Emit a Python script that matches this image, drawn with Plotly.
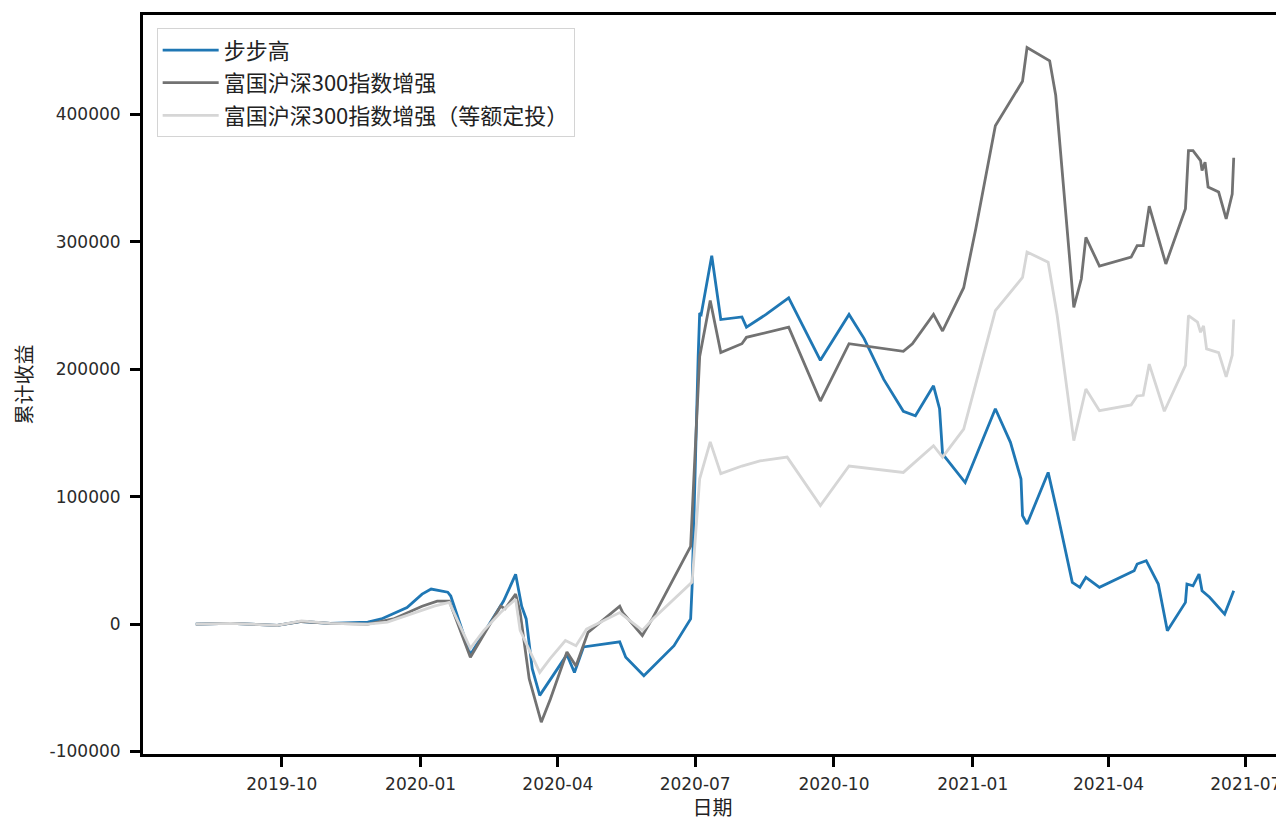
import plotly.graph_objects as go

# ---------------- data ----------------
blue_dates = [
    "2019-08-05", "2019-08-28", "2019-09-28", "2019-10-14", "2019-11-02", "2019-11-27",
    "2019-12-06", "2019-12-23", "2020-01-02", "2020-01-08", "2020-01-19", "2020-01-21",
    "2020-02-03", "2020-02-12", "2020-02-25", "2020-03-04", "2020-03-06", "2020-03-08",
    "2020-03-11", "2020-03-15", "2020-03-20", "2020-03-29", "2020-04-07", "2020-04-12",
    "2020-04-18", "2020-05-12", "2020-05-16", "2020-05-28", "2020-06-17", "2020-06-28",
    "2020-06-29", "2020-07-03", "2020-07-04", "2020-07-05", "2020-07-12", "2020-07-18",
    "2020-08-01", "2020-08-04", "2020-08-17", "2020-09-01", "2020-09-22", "2020-10-11",
    "2020-10-21", "2020-11-03", "2020-11-16", "2020-11-24", "2020-12-06", "2020-12-10",
    "2020-12-12", "2020-12-27", "2021-01-16", "2021-01-26", "2021-02-02", "2021-02-03",
    "2021-02-06", "2021-02-20", "2021-02-26", "2021-03-08", "2021-03-13", "2021-03-17",
    "2021-03-26", "2021-04-18", "2021-04-20", "2021-04-26", "2021-05-04", "2021-05-10",
    "2021-05-22", "2021-05-23", "2021-05-27", "2021-05-31", "2021-06-02", "2021-06-07",
    "2021-06-13", "2021-06-17", "2021-06-23",
]
blue_values = [
    0, 500, -1000, 2000, 500, 1500,
    4000, 13000, 23500, 27500, 25000, 22000,
    -24000, -7000, 18000, 39000, 27500, 14000,
    4000, -35000, -56000, -40500, -24000, -38000,
    -18000, -14000, -26000, -40500, -17000, 4000,
    30000, 210000, 244000, 243000, 289000, 239000,
    241000, 233000, 243000, 256000, 207000, 243000,
    224000, 192000, 167000, 163500, 187000, 169000,
    133500, 111000, 169000, 142600, 113800, 85000,
    78500, 119000, 87700, 32700, 28800, 36700,
    28800, 41800, 47100, 49700, 31400, -5200,
    17000, 31400, 30000, 39200, 26100, 21000,
    13100, 7800, 26100,
]

grey_dates = [
    "2019-08-05", "2019-08-28", "2019-09-28", "2019-10-14", "2019-11-02", "2019-11-27",
    "2019-12-14", "2020-01-02", "2020-01-12", "2020-01-20", "2020-02-03", "2020-02-12",
    "2020-02-23", "2020-02-26", "2020-03-04", "2020-03-07", "2020-03-13", "2020-03-21",
    "2020-03-27", "2020-04-07", "2020-04-13", "2020-04-21", "2020-05-12", "2020-05-14",
    "2020-05-27", "2020-06-03", "2020-06-28", "2020-07-04", "2020-07-11", "2020-07-18",
    "2020-08-01", "2020-08-04", "2020-09-01", "2020-09-22", "2020-10-11", "2020-11-16",
    "2020-11-22", "2020-12-06", "2020-12-12", "2020-12-26", "2021-01-03", "2021-01-16",
    "2021-02-02", "2021-02-03", "2021-02-06", "2021-02-21", "2021-02-25", "2021-03-09",
    "2021-03-14", "2021-03-17", "2021-03-26", "2021-04-16", "2021-04-20", "2021-04-24",
    "2021-04-28", "2021-05-09", "2021-05-22", "2021-05-24", "2021-05-27", "2021-06-01",
    "2021-06-02", "2021-06-04", "2021-06-06", "2021-06-13", "2021-06-18", "2021-06-22",
    "2021-06-23",
]
grey_values = [
    0, 500, -1000, 2000, 500, 0,
    4000, 14000, 18000, 18000, -26000, -8000,
    14000, 12000, 23500, 9000, -43000, -77000,
    -59000, -22000, -33000, -6500, 14000, 9000,
    -9000, 5000, 61000, 210000, 254000, 213000,
    220000, 225000, 233000, 175000, 220000, 214000,
    220000, 243000, 230000, 264000, 310000, 391000,
    424000, 426000, 452500, 442000, 415000, 248500,
    271000, 303500, 281000, 288000, 297000, 297000,
    328000, 282600, 326000, 371500, 371500, 363700,
    356000, 362500, 343000, 339000, 318000, 337500,
    366000,
]

light_dates = [
    "2019-08-05", "2019-08-28", "2019-09-28", "2019-10-14", "2019-11-02", "2019-11-27",
    "2019-12-10", "2019-12-28", "2020-01-10", "2020-01-20", "2020-02-03", "2020-02-12",
    "2020-02-23", "2020-03-04", "2020-03-07", "2020-03-20", "2020-03-27", "2020-04-06",
    "2020-04-13", "2020-04-20", "2020-05-12", "2020-05-27", "2020-06-03", "2020-06-29",
    "2020-07-04", "2020-07-11", "2020-07-18", "2020-08-01", "2020-08-13", "2020-08-31",
    "2020-09-22", "2020-10-11", "2020-11-16", "2020-12-06", "2020-12-12", "2020-12-26",
    "2021-01-13", "2021-01-16", "2021-02-03", "2021-02-06", "2021-02-20", "2021-02-26",
    "2021-03-09", "2021-03-17", "2021-03-26", "2021-04-16", "2021-04-20", "2021-04-24",
    "2021-04-28", "2021-05-08", "2021-05-22", "2021-05-24", "2021-05-30", "2021-06-01",
    "2021-06-03", "2021-06-05", "2021-06-13", "2021-06-18", "2021-06-22", "2021-06-23",
]
light_values = [
    0, 500, -1000, 2500, 500, 0,
    1500, 9000, 14000, 17000, -19000, -5000,
    9000, 19500, -5000, -38000, -27000, -13000,
    -17000, -4000, 9000, -5000, 4000, 33000,
    114000, 143000, 118000, 124000, 128000, 131000,
    93000, 124000, 119000, 140000, 131000, 153000,
    231000, 246000, 272000, 292000, 284000, 242000,
    144000, 184500, 167400, 172000, 179000, 179500,
    204000, 167000, 203000, 242000, 237000, 229000,
    234000, 216000, 213000, 194000, 211000, 239000,
]

series_names = ["步步高", "富国沪深300指数增强", "富国沪深300指数增强（等额定投）"]
series_colors = ["#1f77b4", "#727272", "#d6d6d6"]

x_tick_vals = ["2019-10-01", "2020-01-01", "2020-04-01", "2020-07-01",
               "2020-10-01", "2021-01-01", "2021-04-01", "2021-07-01"]
x_tick_text = ["2019-10", "2020-01", "2020-04", "2020-07",
               "2020-10", "2021-01", "2021-04", "2021-07"]
y_tick_vals = [-100000, 0, 100000, 200000, 300000, 400000]
y_tick_text = ["-100000", "0", "100000", "200000", "300000", "400000"]

x_label = "日期"
y_label = "累计收益"

# ---------------- figure ----------------
fig = go.Figure()
all_x = [blue_dates, grey_dates, light_dates]
all_y = [blue_values, grey_values, light_values]
for i in range(3):
    fig.add_trace(go.Scatter(
        x=all_x[i], y=all_y[i], mode="lines", name=series_names[i],
        legendgroup=f"g{i}",
        line=dict(color=series_colors[i], width=2.8),
    ))

cjk = "Noto Sans CJK SC, Noto Sans, DejaVu Sans, sans-serif"
tick_font = dict(family="DejaVu Sans, Noto Sans, sans-serif", size=17, color="#2a2a2a")

# the page body adds an 8px offset, so the figure is sized to the visible area
fig.update_layout(
    width=1276, height=813,
    margin=dict(l=135, r=2, t=7, b=67),
    paper_bgcolor="white", plot_bgcolor="white",
    showlegend=True,
    legend=dict(
        x=0.012, y=0.982, xanchor="left", yanchor="top",
        bgcolor="rgba(255,255,255,0.85)", bordercolor="#d4d4d4", borderwidth=1,
        font=dict(family=cjk, size=22, color="#222222"),
        traceorder="grouped", tracegroupgap=1,
        itemwidth=56,
    ),
    font=dict(family=cjk),
)

fig.update_xaxes(
    type="date",
    range=["2019-07-01", "2021-07-25"],
    tickvals=x_tick_vals, ticktext=x_tick_text,
    ticks="outside", ticklen=10, tickwidth=3, tickcolor="black",
    tickfont=tick_font, ticklabelstandoff=3,
    showline=True, linewidth=3, linecolor="black", mirror=True,
    showgrid=False, zeroline=False, automargin=False,
    title=dict(text=x_label, font=dict(family=cjk, size=20, color="#222222"), standoff=6),
)
fig.update_yaxes(
    range=[-102000, 478000],
    tickvals=y_tick_vals, ticktext=y_tick_text,
    ticks="outside", ticklen=10, tickwidth=3, tickcolor="black",
    tickfont=tick_font, ticklabelstandoff=6,
    showline=True, linewidth=3, linecolor="black", mirror=True,
    showgrid=False, zeroline=False, automargin=False,
    title=dict(text=y_label, font=dict(family=cjk, size=20, color="#222222"), standoff=12),
)

fig.write_html("out.html")
